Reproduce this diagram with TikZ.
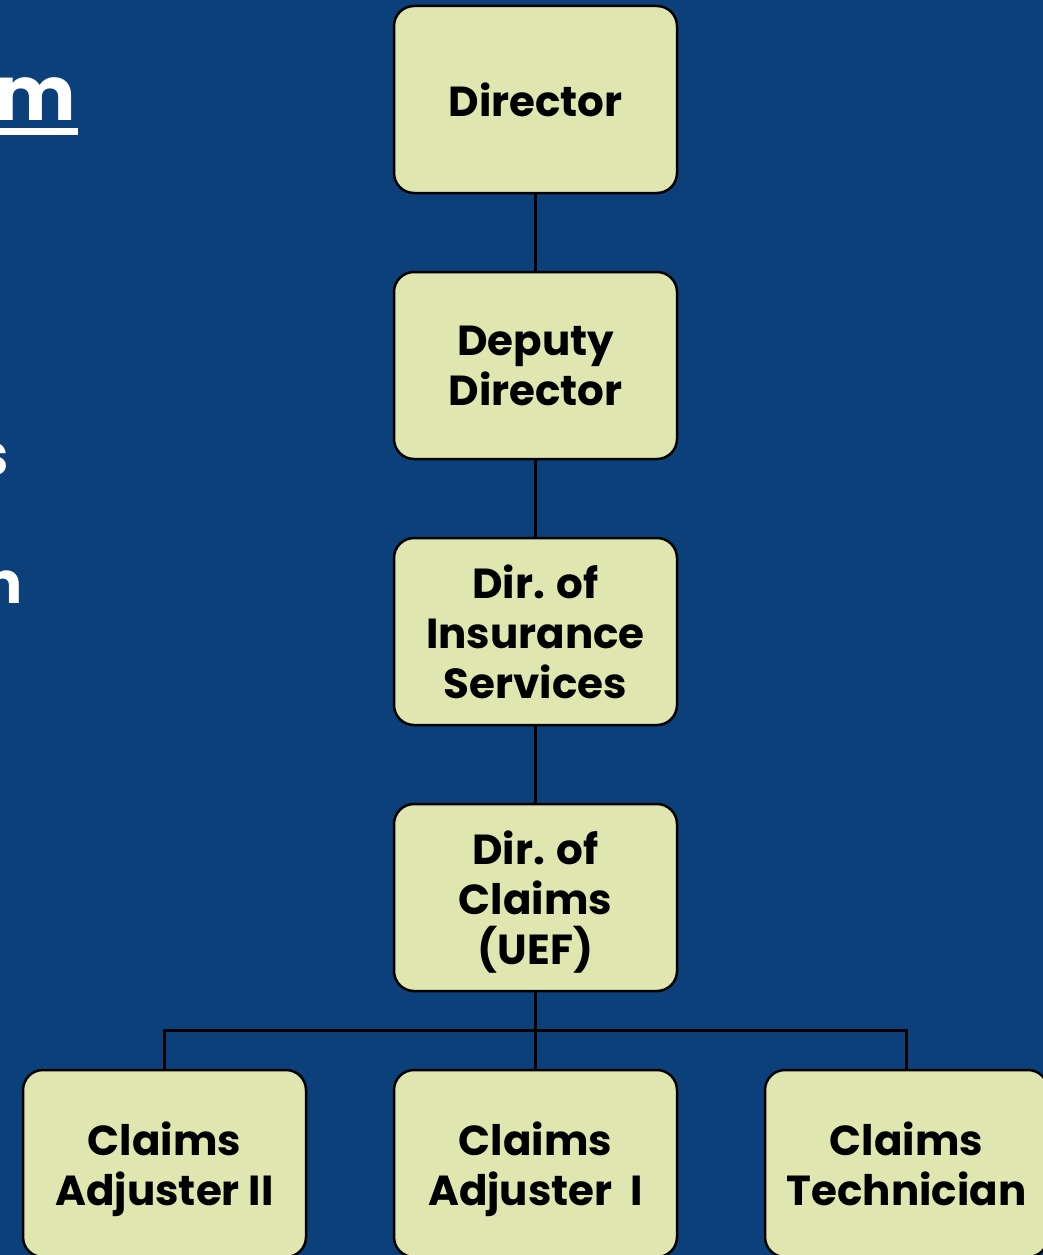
\documentclass[tikz,border=0pt]{standalone}
\usepackage{fontspec}
\setmainfont{Poppins}

% slide background: blend of a deep blue and a dark teal
\definecolor{bgslide}{RGB}{11,64,122}
\definecolor{boxfill}{RGB}{223,230,176}

\tikzset{
  orgbox/.style={draw=black, line width=2.5pt, fill=boxfill, rounded corners=20pt,
    minimum width=283pt, minimum height=187pt, align=center, inner sep=0pt,
    text depth=0pt, font=\fontsize{42}{50}\selectfont\bfseries},
  link/.style={draw=black, line width=2.6pt},
  sidetext/.style={text=white, inner sep=0pt}
}

\begin{document}
\begin{tikzpicture}[x=1pt, y=-1pt]
  \useasboundingbox (0,0) rectangle (1043,1255);
  \clip (0,0) rectangle (1043,1255);
  \fill[bgslide] (0,0) rectangle (1043,1255);

  % slide text running off the left edge
  \node[sidetext, anchor=base east, font=\fontsize{76}{80}\selectfont\bfseries] (ttl) at (76,120) {m};
  \fill[white] (0,128) rectangle (78,135);
  \node[sidetext, anchor=base east, font=\fontsize{58}{60}\selectfont\bfseries] (ls) at (9,475) {s};
  \node[sidetext, anchor=base east, font=\fontsize{58}{60}\selectfont\bfseries] (ln) at (23,603) {n};

  % chain of command
  \node[orgbox] (dir)  at (535.5,99.5)   {Director};
  \node[orgbox] (dep)  at (535.5,365.5)  {Deputy\\Director};
  \node[orgbox] (ins)  at (535.5,631.5)  {Dir. of\\Insurance\\Services};
  \node[orgbox] (clm)  at (535.5,897.5)  {Dir. of\\Claims\\(UEF)};
  \node[orgbox] (ca2)  at (164.5,1163.5) {Claims\\Adjuster II};
  \node[orgbox] (ca1)  at (535.5,1163.5) {Claims\\Adjuster\ \ I};
  \node[orgbox] (tech) at (906.5,1163.5) {Claims\\Technician};

  \draw[link] (dir.south) -- (dep.north);
  \draw[link] (dep.south) -- (ins.north);
  \draw[link] (ins.south) -- (clm.north);
  \draw[link] (clm.south) -- (ca1.north);
  \draw[link] (ca2.north) -- ++(0,-38) -| (tech.north);
\end{tikzpicture}
\end{document}
